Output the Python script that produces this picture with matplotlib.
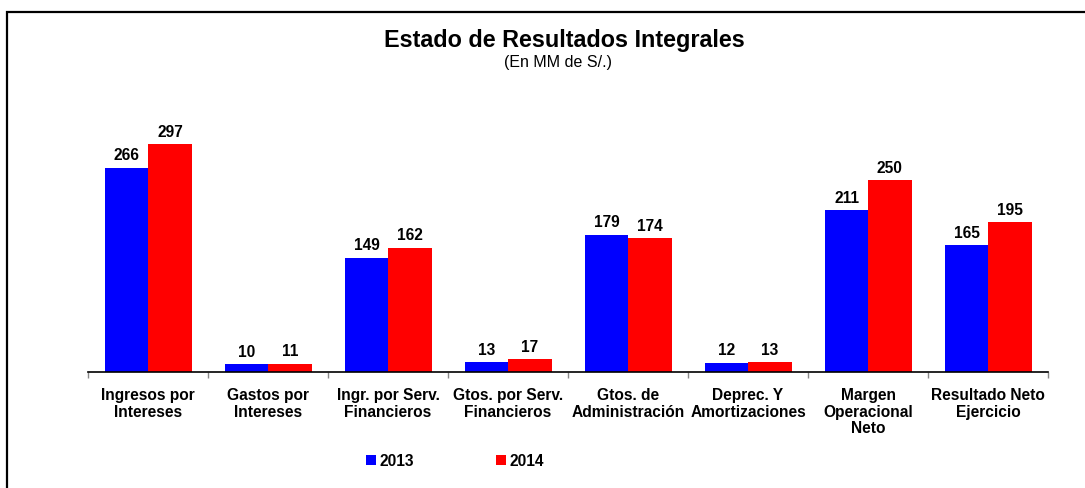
import matplotlib
matplotlib.use("Agg")
import matplotlib.pyplot as plt
import numpy as np
from matplotlib.patches import Rectangle

categories = ["Ingresos por\nIntereses", "Gastos por\nIntereses", "Ingr. por Serv.\nFinancieros",
              "Gtos. por Serv.\nFinancieros", "Gtos. de\nAdministración", "Deprec. Y\nAmortizaciones",
              "Margen\nOperacional\nNeto", "Resultado Neto\nEjercicio"]
v2013 = [266, 10, 149, 13, 179, 12, 211, 165]
v2014 = [297, 11, 162, 17, 174, 13, 250, 195]
series_labels = ["2013", "2014"]

plt.rcParams['font.family'] = ['Liberation Sans', 'DejaVu Sans']

W, H = 1085, 489
fig = plt.figure(figsize=(W/100, H/100), dpi=100)

# axes: x 88..1048, baseline y=373
ax_left = 88 / W
ax_width = (1048 - 88) / W
ax_bottom = 1 - 373 / H
ax_top_px = 100
ax_height = (373 - ax_top_px) / H
ax = fig.add_axes([ax_left, ax_bottom, ax_width, ax_height])

x = np.arange(len(categories))
w = 0.355
ax.bar(x - w/2, v2013, w, color='#0000FF', label=series_labels[0], linewidth=0)
ax.bar(x + w/2 + 0.005, v2014, w + 0.01, color='#FF0000', label=series_labels[1], linewidth=0)

px_per_unit = 228 / 297
ax.set_ylim(0, (373 - ax_top_px) / px_per_unit)
ax.set_xlim(-0.5, len(categories) - 0.5)

fs = 11.2
for i in range(len(categories)):
    ax.text(x[i] - w/2, v2013[i] + 7, str(v2013[i]), ha='center', va='bottom',
            fontsize=fs, fontweight='bold')
    ax.text(x[i] + w/2 + 0.005, v2014[i] + 7, str(v2014[i]), ha='center', va='bottom',
            fontsize=fs, fontweight='bold')

for s in ['top', 'right', 'left']:
    ax.spines[s].set_visible(False)
ax.spines['bottom'].set_linewidth(1.2)
ax.set_yticks([])
ax.set_xticks(np.arange(-0.5, len(categories)), minor=False)
ax.set_xticklabels([])
ax.tick_params(axis='x', length=4, color='#888888', width=1)
for i, c in enumerate(categories):
    ax.text(x[i], -20, c, ha='center', va='top', fontsize=fs, fontweight='bold',
            linespacing=1.12)

fig.text(564/W, 1 - 40/H, "Estado de Resultados Integrales", ha='center', va='center',
         fontsize=16.8, fontweight='bold')
fig.text(558/W, 1 - 63/H, "(En MM de S/.)", ha='center', va='center', fontsize=11.5)

# legend
leg = fig.legend(loc='center', bbox_to_anchor=(455/W, 1 - 462/H), ncol=2, frameon=False,
                 prop={'weight': 'bold', 'size': fs}, handlelength=0.65,
                 handleheight=0.65, handletextpad=0.2, columnspacing=5.3)

# figure border
fig.patches.append(Rectangle((7/W, -0.05), 1.2, 1 - 13/H + 0.05, transform=fig.transFigure,
                             fill=False, edgecolor='black', linewidth=1.6))

fig.savefig("out.png", dpi=100)
